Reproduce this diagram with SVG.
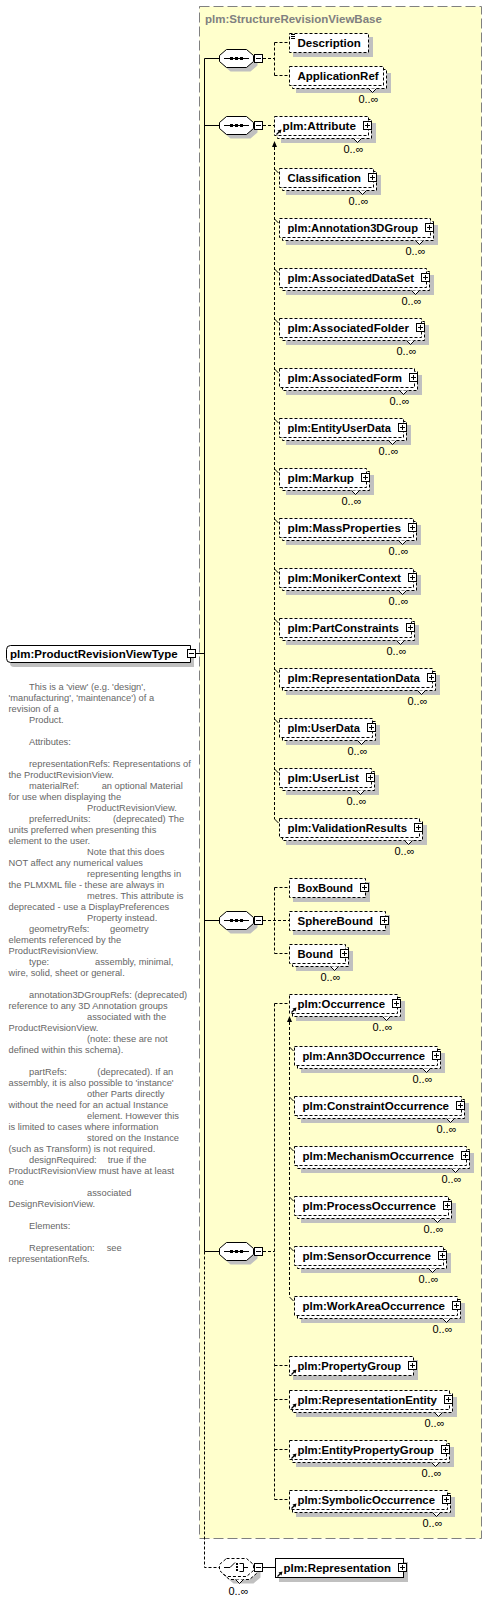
<svg xmlns="http://www.w3.org/2000/svg" width="487" height="1601" viewBox="0 0 487 1601">
<style>
.sh{fill:#c0c0c0}
.bx{fill:#fff;stroke:#000;stroke-dasharray:3,2}
.bs{fill:#fff;stroke:#000}
.dl{fill:none;stroke:#000;stroke-dasharray:3,2}
.sl{fill:none;stroke:#000}
.vn{fill:#fff;stroke:#000}
.nm{font-family:"Liberation Sans",Arial,sans-serif;font-weight:bold;font-size:11.5px;fill:#000}
.oc{font-family:"Liberation Sans","DejaVu Sans",sans-serif;font-size:11px;fill:#000;text-anchor:end}
.ds{font-family:"Liberation Sans",Arial,sans-serif;font-size:9.3px;fill:#666}
.ti{font-family:"Liberation Sans",Arial,sans-serif;font-weight:bold;font-size:11.5px;fill:#808080}
</style>
<defs>
<g id="plus"><rect x="-4.5" y="-4.5" width="8" height="8" fill="#fff" stroke="#000"/><path d="M-3 -0.5H2M-0.5 -3V2" stroke="#000"/></g>
<g id="minus"><rect x="-4.5" y="-4.5" width="8" height="8" fill="#fff" stroke="#000"/><path d="M-3 -0.5H2" stroke="#000"/></g>
<path id="oct" d="M226.5 -9.5H246.5L253.5 -3.5V2.5L246.5 8.5H226.5L219.5 2.5V-3.5Z"/>
<g id="ref"><path d="M2.5 8.5L5.5 5.5" stroke="#000" stroke-width="1.2"/><path d="M7.5 3.5L3.5 4.5L6.5 7.5Z" fill="#000"/></g>
<g id="seqi"><path d="M224 -0.5H249" stroke="#000"/><rect x="230" y="-2" width="3" height="3"/><rect x="235" y="-2" width="3" height="3"/><rect x="240" y="-2" width="3" height="3"/></g>
</defs>

<rect x="199.5" y="6.5" width="282" height="1532" fill="#ffffcc" stroke="#808080" stroke-dasharray="10,4"/>
<text class="ti" x="205" y="23">plm:StructureRevisionViewBase</text>

<g id="connectors">
<path class="sl" d="M196 653.5H204.5M204.5 58.5V1251.5M204.5 58.5H219M204.5 125.5H219M204.5 920.5H219M204.5 1251.5H219M263 1567.5H275"/>
<path class="dl" d="M263 58.5H274.5M274.5 42.5V75.5M274.5 42.5H289M274.5 75.5H289M263 125.5H274M274.5 147V819M263 920.5H289M274.5 887.5V953.5M274.5 887.5H289M274.5 953.5H289M263 1251.5H274.5M274.5 1003.5V1499.5M274.5 1003.5H289M274.5 1365.5H289M274.5 1399.5H289M274.5 1449.5H289M274.5 1499.5H289M289.5 1022V1297M204.5 1251.5V1567.5H219"/>
<path class="sl" d="M274.5 169L278.5 173M274.5 219L278.5 223M274.5 269L278.5 273M274.5 319L278.5 323M274.5 369L278.5 373M274.5 419L278.5 423M274.5 469L278.5 473M274.5 519L278.5 523M274.5 569L278.5 573M274.5 619L278.5 623M274.5 669L278.5 673M274.5 719L278.5 723M274.5 769L278.5 773M274.5 819L278.5 823M289.5 1047L293.5 1051M289.5 1097L293.5 1101M289.5 1147L293.5 1151M289.5 1197L293.5 1201M289.5 1247L293.5 1251M289.5 1297L293.5 1301"/>
<path d="M274.5 141L272 147H277Z M289.5 1016L287 1022H292Z" fill="#000"/>
</g>

<g id="type" transform="translate(0,654)">
<path class="sh" d="M194 -5V13H14Q10 13 10 9V-1Q10 -5 14 -5Z"/>
<path class="bs" d="M190.5 -8.5V8.5H10.5Q6.5 8.5 6.5 4.5V-4.5Q6.5 -8.5 10.5 -8.5Z"/>
<text class="nm" x="10" y="4">plm:ProductRevisionViewType</text>
<use href="#minus" x="192"/>
</g>

<g id="type-doc" class="ds">
<text x="29" y="690">This is a 'view' (e.g. 'design',</text>
<text x="8.5" y="701">'manufacturing', 'maintenance') of a</text>
<text x="8.5" y="712">revision of a</text>
<text x="29" y="723">Product.</text>
<text x="29" y="745">Attributes:</text>
<text x="29" y="767">representationRefs: Representations of</text>
<text x="8.5" y="778">the ProductRevisionView.</text>
<text x="29" y="789">materialRef:</text><text x="101.7" y="789">an optional Material</text>
<text x="8.5" y="800">for use when displaying the</text>
<text x="87" y="811">ProductRevisionView.</text>
<text x="29" y="822">preferredUnits:</text><text x="113" y="822">(deprecated) The</text>
<text x="8.5" y="833">units preferred when presenting this</text>
<text x="8.5" y="844">element to the user.</text>
<text x="87" y="855">Note that this does</text>
<text x="8.5" y="866">NOT affect any numerical values</text>
<text x="87" y="877">representing lengths in</text>
<text x="8.5" y="888">the PLMXML file - these are always in</text>
<text x="87" y="899">metres. This attribute is</text>
<text x="8.5" y="910">deprecated - use a DisplayPreferences</text>
<text x="87" y="921">Property instead.</text>
<text x="29" y="932">geometryRefs:</text><text x="110" y="932">geometry</text>
<text x="8.5" y="943">elements referenced by the</text>
<text x="8.5" y="954">ProductRevisionView.</text>
<text x="29" y="965">type:</text><text x="95" y="965">assembly, minimal,</text>
<text x="8.5" y="976">wire, solid, sheet or general.</text>
<text x="29" y="998">annotation3DGroupRefs: (deprecated)</text>
<text x="8.5" y="1009">reference to any 3D Annotation groups</text>
<text x="87" y="1020">associated with the</text>
<text x="8.5" y="1031">ProductRevisionView.</text>
<text x="87" y="1042">(note: these are not</text>
<text x="8.5" y="1053">defined within this schema).</text>
<text x="29" y="1075">partRefs:</text><text x="97.3" y="1075">(deprecated). If an</text>
<text x="8.5" y="1086">assembly, it is also possible to 'instance'</text>
<text x="87" y="1097">other Parts directly</text>
<text x="8.5" y="1108">without the need for an actual Instance</text>
<text x="87" y="1119">element. However this</text>
<text x="8.5" y="1130">is limited to cases where information</text>
<text x="87" y="1141">stored on the Instance</text>
<text x="8.5" y="1152">(such as Transform) is not required.</text>
<text x="29" y="1163">designRequired:</text><text x="107.7" y="1163">true if the</text>
<text x="8.5" y="1174">ProductRevisionView must have at least</text>
<text x="8.5" y="1185">one</text>
<text x="87" y="1196">associated</text>
<text x="8.5" y="1207">DesignRevisionView.</text>
<text x="29" y="1229">Elements:</text>
<text x="29" y="1251">Representation:</text><text x="106.7" y="1251">see</text>
<text x="8.5" y="1262">representationRefs.</text>
</g>

<g id="seq1" transform="translate(0,59)"><use href="#oct" class="sh" transform="translate(4,4)"/><use href="#oct" class="bs"/><use href="#seqi"/><use href="#minus" x="259"/></g>
<g id="seq2" transform="translate(0,126)"><use href="#oct" class="sh" transform="translate(4,4)"/><use href="#oct" class="bs"/><use href="#seqi"/><use href="#minus" x="259"/></g>
<g id="seq3" transform="translate(0,921)"><use href="#oct" class="sh" transform="translate(4,4)"/><use href="#oct" class="bs"/><use href="#seqi"/><use href="#minus" x="259"/></g>
<g id="seq4" transform="translate(0,1252)"><use href="#oct" class="sh" transform="translate(4,4)"/><use href="#oct" class="bs"/><use href="#seqi"/><use href="#minus" x="259"/></g>

<g id="choice" transform="translate(0,1568)">
<use href="#oct" class="sh" transform="translate(7,7)"/>
<use href="#oct" class="bx" transform="translate(3,3)"/>
<use href="#oct" class="bx"/>
<path class="sl" d="M224 -0.5H230L235 -5.5M239.5 -4.5H243.5V3.5H239.5M243.5 -0.5H248"/>
<rect x="236" y="-5" width="2" height="2"/><rect x="236" y="-2" width="2" height="2"/><rect x="236" y="1" width="2" height="2"/>
<path class="vn" d="M235.5 11.5l4 4l4-4"/>
<use href="#minus" x="259"/>
<text class="oc" x="248.5" y="27">0..∞</text>
</g>

<g id="e-description" transform="translate(289,43)">
<rect class="sh" x="4" y="-6" width="80" height="20"/>
<rect class="bx" x="0.5" y="-9.5" width="79" height="19"/>
<path class="sl" d="M2 -8.5H6M2 -6.5H6M2 -4.5H6"/>
<text class="nm" x="8.5" y="4">Description</text>
</g>
<g id="e-applicationref" transform="translate(289,76)">
<rect class="sh" x="7" y="-3" width="95" height="20"/>
<rect class="bx" x="3.5" y="-6.5" width="94" height="19"/>
<rect class="bx" x="0.5" y="-9.5" width="94" height="19"/>
<path class="vn" d="M79.5 12.5l4 4l4-4"/>
<text class="nm" x="8.5" y="4">ApplicationRef</text>
<text class="oc" x="89.5" y="27">0..∞</text>
</g>

<g id="e-attribute" transform="translate(274,126)">
<rect class="sh" x="7" y="-3" width="95" height="20"/>
<rect class="bx" x="3.5" y="-6.5" width="94" height="19"/>
<rect class="bx" x="0.5" y="-9.5" width="94" height="19"/>
<path class="vn" d="M79.5 12.5l4 4l4-4"/>
<use href="#ref"/>
<text class="nm" x="8.5" y="4" textLength="73.5" lengthAdjust="spacingAndGlyphs">plm:Attribute</text>
<use href="#plus" x="94"/>
<text class="oc" x="89.5" y="27">0..∞</text>
</g>
<g id="e-classification" transform="translate(279,178)">
<rect class="sh" x="7" y="-3" width="95" height="20"/>
<rect class="bx" x="3.5" y="-6.5" width="94" height="19"/>
<rect class="bx" x="0.5" y="-9.5" width="94" height="19"/>
<path class="vn" d="M79.5 12.5l4 4l4-4"/>
<text class="nm" x="8.5" y="4" textLength="73.5" lengthAdjust="spacingAndGlyphs">Classification</text>
<use href="#plus" x="94"/>
<text class="oc" x="89.5" y="27">0..∞</text>
</g>
<g id="e-annotation3dgroup" transform="translate(279,228)">
<rect class="sh" x="7" y="-3" width="152" height="20"/>
<rect class="bx" x="3.5" y="-6.5" width="151" height="19"/>
<rect class="bx" x="0.5" y="-9.5" width="151" height="19"/>
<path class="vn" d="M136.5 12.5l4 4l4-4"/>
<text class="nm" x="8.5" y="4" textLength="130.5" lengthAdjust="spacingAndGlyphs">plm:Annotation3DGroup</text>
<use href="#plus" x="151"/>
<text class="oc" x="146.5" y="27">0..∞</text>
</g>
<g id="e-associateddataset" transform="translate(279,278)">
<rect class="sh" x="7" y="-3" width="148" height="20"/>
<rect class="bx" x="3.5" y="-6.5" width="147" height="19"/>
<rect class="bx" x="0.5" y="-9.5" width="147" height="19"/>
<path class="vn" d="M132.5 12.5l4 4l4-4"/>
<text class="nm" x="8.5" y="4" textLength="126.5" lengthAdjust="spacingAndGlyphs">plm:AssociatedDataSet</text>
<use href="#plus" x="147"/>
<text class="oc" x="142.5" y="27">0..∞</text>
</g>
<g id="e-associatedfolder" transform="translate(279,328)">
<rect class="sh" x="7" y="-3" width="143" height="20"/>
<rect class="bx" x="3.5" y="-6.5" width="142" height="19"/>
<rect class="bx" x="0.5" y="-9.5" width="142" height="19"/>
<path class="vn" d="M127.5 12.5l4 4l4-4"/>
<text class="nm" x="8.5" y="4" textLength="121.5" lengthAdjust="spacingAndGlyphs">plm:AssociatedFolder</text>
<use href="#plus" x="142"/>
<text class="oc" x="137.5" y="27">0..∞</text>
</g>
<g id="e-associatedform" transform="translate(279,378)">
<rect class="sh" x="7" y="-3" width="136" height="20"/>
<rect class="bx" x="3.5" y="-6.5" width="135" height="19"/>
<rect class="bx" x="0.5" y="-9.5" width="135" height="19"/>
<path class="vn" d="M120.5 12.5l4 4l4-4"/>
<text class="nm" x="8.5" y="4" textLength="114.5" lengthAdjust="spacingAndGlyphs">plm:AssociatedForm</text>
<use href="#plus" x="135"/>
<text class="oc" x="130.5" y="27">0..∞</text>
</g>
<g id="e-entityuserdata" transform="translate(279,428)">
<rect class="sh" x="7" y="-3" width="125" height="20"/>
<rect class="bx" x="3.5" y="-6.5" width="124" height="19"/>
<rect class="bx" x="0.5" y="-9.5" width="124" height="19"/>
<path class="vn" d="M109.5 12.5l4 4l4-4"/>
<text class="nm" x="8.5" y="4" textLength="103.5" lengthAdjust="spacingAndGlyphs">plm:EntityUserData</text>
<use href="#plus" x="124"/>
<text class="oc" x="119.5" y="27">0..∞</text>
</g>
<g id="e-markup" transform="translate(279,478)">
<rect class="sh" x="7" y="-3" width="88" height="20"/>
<rect class="bx" x="3.5" y="-6.5" width="87" height="19"/>
<rect class="bx" x="0.5" y="-9.5" width="87" height="19"/>
<path class="vn" d="M72.5 12.5l4 4l4-4"/>
<text class="nm" x="8.5" y="4" textLength="66.5" lengthAdjust="spacingAndGlyphs">plm:Markup</text>
<use href="#plus" x="87"/>
<text class="oc" x="82.5" y="27">0..∞</text>
</g>
<g id="e-massproperties" transform="translate(279,528)">
<rect class="sh" x="7" y="-3" width="135" height="20"/>
<rect class="bx" x="3.5" y="-6.5" width="134" height="19"/>
<rect class="bx" x="0.5" y="-9.5" width="134" height="19"/>
<path class="vn" d="M119.5 12.5l4 4l4-4"/>
<text class="nm" x="8.5" y="4" textLength="113.5" lengthAdjust="spacingAndGlyphs">plm:MassProperties</text>
<use href="#plus" x="134"/>
<text class="oc" x="129.5" y="27">0..∞</text>
</g>
<g id="e-monikercontext" transform="translate(279,578)">
<rect class="sh" x="7" y="-3" width="135" height="20"/>
<rect class="bx" x="3.5" y="-6.5" width="134" height="19"/>
<rect class="bx" x="0.5" y="-9.5" width="134" height="19"/>
<path class="vn" d="M119.5 12.5l4 4l4-4"/>
<text class="nm" x="8.5" y="4" textLength="113.5" lengthAdjust="spacingAndGlyphs">plm:MonikerContext</text>
<use href="#plus" x="134"/>
<text class="oc" x="129.5" y="27">0..∞</text>
</g>
<g id="e-partconstraints" transform="translate(279,628)">
<rect class="sh" x="7" y="-3" width="133" height="20"/>
<rect class="bx" x="3.5" y="-6.5" width="132" height="19"/>
<rect class="bx" x="0.5" y="-9.5" width="132" height="19"/>
<path class="vn" d="M117.5 12.5l4 4l4-4"/>
<text class="nm" x="8.5" y="4" textLength="111.5" lengthAdjust="spacingAndGlyphs">plm:PartConstraints</text>
<use href="#plus" x="132"/>
<text class="oc" x="127.5" y="27">0..∞</text>
</g>
<g id="e-representationdata" transform="translate(279,678)">
<rect class="sh" x="7" y="-3" width="154" height="20"/>
<rect class="bx" x="3.5" y="-6.5" width="153" height="19"/>
<rect class="bx" x="0.5" y="-9.5" width="153" height="19"/>
<path class="vn" d="M138.5 12.5l4 4l4-4"/>
<text class="nm" x="8.5" y="4" textLength="132.5" lengthAdjust="spacingAndGlyphs">plm:RepresentationData</text>
<use href="#plus" x="153"/>
<text class="oc" x="148.5" y="27">0..∞</text>
</g>
<g id="e-userdata" transform="translate(279,728)">
<rect class="sh" x="7" y="-3" width="94" height="20"/>
<rect class="bx" x="3.5" y="-6.5" width="93" height="19"/>
<rect class="bx" x="0.5" y="-9.5" width="93" height="19"/>
<path class="vn" d="M78.5 12.5l4 4l4-4"/>
<text class="nm" x="8.5" y="4" textLength="72.5" lengthAdjust="spacingAndGlyphs">plm:UserData</text>
<use href="#plus" x="93"/>
<text class="oc" x="88.5" y="27">0..∞</text>
</g>
<g id="e-userlist" transform="translate(279,778)">
<rect class="sh" x="7" y="-3" width="93" height="20"/>
<rect class="bx" x="3.5" y="-6.5" width="92" height="19"/>
<rect class="bx" x="0.5" y="-9.5" width="92" height="19"/>
<path class="vn" d="M77.5 12.5l4 4l4-4"/>
<text class="nm" x="8.5" y="4" textLength="71.5" lengthAdjust="spacingAndGlyphs">plm:UserList</text>
<use href="#plus" x="92"/>
<text class="oc" x="87.5" y="27">0..∞</text>
</g>
<g id="e-validationresults" transform="translate(279,828)">
<rect class="sh" x="7" y="-3" width="141" height="20"/>
<rect class="bx" x="3.5" y="-6.5" width="140" height="19"/>
<rect class="bx" x="0.5" y="-9.5" width="140" height="19"/>
<path class="vn" d="M125.5 12.5l4 4l4-4"/>
<text class="nm" x="8.5" y="4" textLength="119.5" lengthAdjust="spacingAndGlyphs">plm:ValidationResults</text>
<use href="#plus" x="140"/>
<text class="oc" x="135.5" y="27">0..∞</text>
</g>

<g id="e-boxbound" transform="translate(289,888)">
<rect class="sh" x="4" y="-6" width="77" height="20"/>
<rect class="bx" x="0.5" y="-9.5" width="76" height="19"/>
<text class="nm" x="8.5" y="4" textLength="55.5" lengthAdjust="spacingAndGlyphs">BoxBound</text>
<use href="#plus" x="76"/>
</g>
<g id="e-spherebound" transform="translate(289,921)">
<rect class="sh" x="4" y="-6" width="97" height="20"/>
<rect class="bx" x="0.5" y="-9.5" width="96" height="19"/>
<text class="nm" x="8.5" y="4" textLength="75.5" lengthAdjust="spacingAndGlyphs">SphereBound</text>
<use href="#plus" x="96"/>
</g>
<g id="e-bound" transform="translate(289,954)">
<rect class="sh" x="7" y="-3" width="57" height="20"/>
<rect class="bx" x="3.5" y="-6.5" width="56" height="19"/>
<rect class="bx" x="0.5" y="-9.5" width="56" height="19"/>
<path class="vn" d="M41.5 12.5l4 4l4-4"/>
<text class="nm" x="8.5" y="4" textLength="35.5" lengthAdjust="spacingAndGlyphs">Bound</text>
<use href="#plus" x="56"/>
<text class="oc" x="51.5" y="27">0..∞</text>
</g>

<g id="e-occurrence" transform="translate(289,1004)">
<rect class="sh" x="7" y="-3" width="109" height="20"/>
<rect class="bx" x="3.5" y="-6.5" width="108" height="19"/>
<rect class="bx" x="0.5" y="-9.5" width="108" height="19"/>
<path class="vn" d="M93.5 12.5l4 4l4-4"/>
<use href="#ref"/>
<text class="nm" x="8.5" y="4" textLength="87.5" lengthAdjust="spacingAndGlyphs">plm:Occurrence</text>
<use href="#plus" x="108"/>
<text class="oc" x="103.5" y="27">0..∞</text>
</g>
<g id="e-ann3doccurrence" transform="translate(294,1056)">
<rect class="sh" x="7" y="-3" width="144" height="20"/>
<rect class="bx" x="3.5" y="-6.5" width="143" height="19"/>
<rect class="bx" x="0.5" y="-9.5" width="143" height="19"/>
<path class="vn" d="M128.5 12.5l4 4l4-4"/>
<text class="nm" x="8.5" y="4" textLength="122.5" lengthAdjust="spacingAndGlyphs">plm:Ann3DOccurrence</text>
<use href="#plus" x="143"/>
<text class="oc" x="138.5" y="27">0..∞</text>
</g>
<g id="e-constraintoccurrence" transform="translate(294,1106)">
<rect class="sh" x="7" y="-3" width="168" height="20"/>
<rect class="bx" x="3.5" y="-6.5" width="167" height="19"/>
<rect class="bx" x="0.5" y="-9.5" width="167" height="19"/>
<path class="vn" d="M152.5 12.5l4 4l4-4"/>
<text class="nm" x="8.5" y="4" textLength="146.5" lengthAdjust="spacingAndGlyphs">plm:ConstraintOccurrence</text>
<use href="#plus" x="167"/>
<text class="oc" x="162.5" y="27">0..∞</text>
</g>
<g id="e-mechanismoccurrence" transform="translate(294,1156)">
<rect class="sh" x="7" y="-3" width="173" height="20"/>
<rect class="bx" x="3.5" y="-6.5" width="172" height="19"/>
<rect class="bx" x="0.5" y="-9.5" width="172" height="19"/>
<path class="vn" d="M157.5 12.5l4 4l4-4"/>
<text class="nm" x="8.5" y="4" textLength="151.5" lengthAdjust="spacingAndGlyphs">plm:MechanismOccurrence</text>
<use href="#plus" x="172"/>
<text class="oc" x="167.5" y="27">0..∞</text>
</g>
<g id="e-processoccurrence" transform="translate(294,1206)">
<rect class="sh" x="7" y="-3" width="155" height="20"/>
<rect class="bx" x="3.5" y="-6.5" width="154" height="19"/>
<rect class="bx" x="0.5" y="-9.5" width="154" height="19"/>
<path class="vn" d="M139.5 12.5l4 4l4-4"/>
<text class="nm" x="8.5" y="4" textLength="133.5" lengthAdjust="spacingAndGlyphs">plm:ProcessOccurrence</text>
<use href="#plus" x="154"/>
<text class="oc" x="149.5" y="27">0..∞</text>
</g>
<g id="e-sensoroccurrence" transform="translate(294,1256)">
<rect class="sh" x="7" y="-3" width="150" height="20"/>
<rect class="bx" x="3.5" y="-6.5" width="149" height="19"/>
<rect class="bx" x="0.5" y="-9.5" width="149" height="19"/>
<path class="vn" d="M134.5 12.5l4 4l4-4"/>
<text class="nm" x="8.5" y="4" textLength="128.5" lengthAdjust="spacingAndGlyphs">plm:SensorOccurrence</text>
<use href="#plus" x="149"/>
<text class="oc" x="144.5" y="27">0..∞</text>
</g>
<g id="e-workareaoccurrence" transform="translate(294,1306)">
<rect class="sh" x="7" y="-3" width="164" height="20"/>
<rect class="bx" x="3.5" y="-6.5" width="163" height="19"/>
<rect class="bx" x="0.5" y="-9.5" width="163" height="19"/>
<path class="vn" d="M148.5 12.5l4 4l4-4"/>
<text class="nm" x="8.5" y="4" textLength="142.5" lengthAdjust="spacingAndGlyphs">plm:WorkAreaOccurrence</text>
<use href="#plus" x="163"/>
<text class="oc" x="158.5" y="27">0..∞</text>
</g>
<g id="e-propertygroup" transform="translate(289,1366)">
<rect class="sh" x="4" y="-6" width="125" height="20"/>
<rect class="bx" x="0.5" y="-9.5" width="124" height="19"/>
<use href="#ref"/>
<text class="nm" x="8.5" y="4" textLength="103.5" lengthAdjust="spacingAndGlyphs">plm:PropertyGroup</text>
<use href="#plus" x="124"/>
</g>
<g id="e-representationentity" transform="translate(289,1400)">
<rect class="sh" x="7" y="-3" width="161" height="20"/>
<rect class="bx" x="3.5" y="-6.5" width="160" height="19"/>
<rect class="bx" x="0.5" y="-9.5" width="160" height="19"/>
<path class="vn" d="M145.5 12.5l4 4l4-4"/>
<use href="#ref"/>
<text class="nm" x="8.5" y="4" textLength="139.5" lengthAdjust="spacingAndGlyphs">plm:RepresentationEntity</text>
<use href="#plus" x="160"/>
<text class="oc" x="155.5" y="27">0..∞</text>
</g>
<g id="e-entitypropertygroup" transform="translate(289,1450)">
<rect class="sh" x="7" y="-3" width="158" height="20"/>
<rect class="bx" x="3.5" y="-6.5" width="157" height="19"/>
<rect class="bx" x="0.5" y="-9.5" width="157" height="19"/>
<path class="vn" d="M142.5 12.5l4 4l4-4"/>
<use href="#ref"/>
<text class="nm" x="8.5" y="4" textLength="136.5" lengthAdjust="spacingAndGlyphs">plm:EntityPropertyGroup</text>
<use href="#plus" x="157"/>
<text class="oc" x="152.5" y="27">0..∞</text>
</g>
<g id="e-symbolicoccurrence" transform="translate(289,1500)">
<rect class="sh" x="7" y="-3" width="159" height="20"/>
<rect class="bx" x="3.5" y="-6.5" width="158" height="19"/>
<rect class="bx" x="0.5" y="-9.5" width="158" height="19"/>
<path class="vn" d="M143.5 12.5l4 4l4-4"/>
<use href="#ref"/>
<text class="nm" x="8.5" y="4" textLength="137.5" lengthAdjust="spacingAndGlyphs">plm:SymbolicOccurrence</text>
<use href="#plus" x="158"/>
<text class="oc" x="153.5" y="27">0..∞</text>
</g>

<g id="e-representation" transform="translate(275,1568)">
<rect class="sh" x="4" y="-6" width="129" height="20"/>
<rect class="bs" x="0.5" y="-9.5" width="128" height="19"/>
<use href="#ref"/>
<text class="nm" x="8.5" y="4" textLength="107.5" lengthAdjust="spacingAndGlyphs">plm:Representation</text>
<use href="#plus" x="128"/>
</g>
</svg>
